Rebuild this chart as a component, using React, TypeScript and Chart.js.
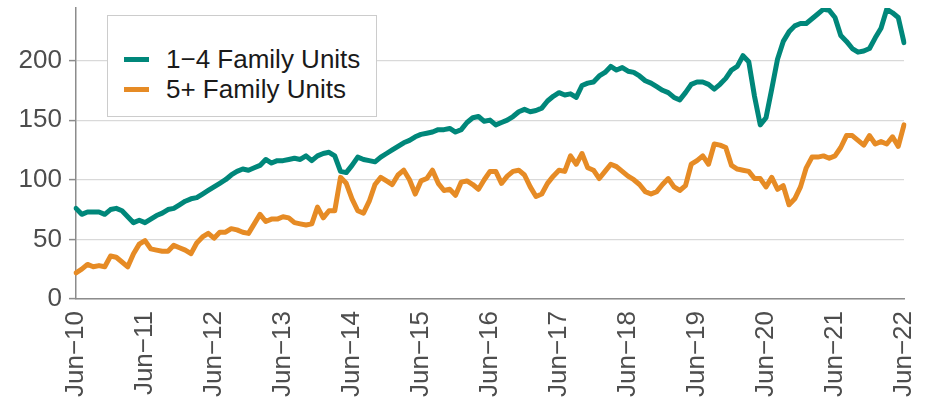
import React, { useEffect, useRef } from "react";
import { Chart, registerables } from "chart.js";

Chart.register(...registerables);

const MONTH_NAMES = ["Jan", "Feb", "Mar", "Apr", "May", "Jun", "Jul", "Aug", "Sep", "Oct", "Nov", "Dec"];
const START_YEAR = 2010;
const START_MONTH = 5; // June
const N_MONTHS = 145;

const categories: string[] = [];
for (let i = 0; i < N_MONTHS; i++) {
  const m = (START_MONTH + i) % 12;
  const y = START_YEAR + Math.floor((START_MONTH + i) / 12);
  categories.push(MONTH_NAMES[m] + "\u2212" + String(y % 100).padStart(2, "0"));
}

const seriesNames = ["1\u22124 Family Units", "5+ Family Units"];

const oneToFour = [
  76, 71, 73, 73, 73, 71, 75, 76, 74, 69, 64, 66,
  64, 67, 70, 72, 75, 76, 79, 82, 84, 85, 88, 91,
  94, 97, 100, 104, 107, 109, 108, 110, 112, 117, 114, 116,
  116, 117, 118, 117, 120, 116, 120, 122, 123, 120, 107, 106,
  112, 119, 117, 116, 115, 119, 122, 125, 128, 131, 133, 136,
  138, 139, 140, 142, 142, 143, 140, 142, 148, 152, 153, 149,
  150, 146, 148, 150, 153, 157, 159, 157, 158, 160, 166, 170,
  173, 171, 172, 169, 179, 181, 182, 187, 190, 195, 192, 194,
  191, 190, 187, 183, 181, 178, 175, 173, 169, 167, 173, 180,
  182, 182, 180, 176, 180, 185, 192, 195, 204, 199, 170, 146,
  152, 176, 201, 216, 224, 229, 231, 231, 235, 239, 243, 242,
  236, 221, 216, 210, 207, 208, 210, 219, 227, 243, 240, 236,
  215,
];

const fivePlus = [
  22, 25, 29, 27, 28, 27, 36, 35, 31, 27, 38, 46,
  49, 42, 41, 40, 40, 45, 43, 41, 38, 47, 52, 55,
  51, 56, 56, 59, 58, 56, 55, 63, 71, 65, 67, 67,
  69, 68, 64, 63, 62, 63, 77, 68, 74, 74, 102, 97,
  84, 74, 72, 82, 96, 102, 99, 96, 104, 108, 100, 88,
  99, 101, 108, 97, 91, 92, 87, 98, 99, 96, 92, 100,
  107, 107, 97, 103, 107, 108, 104, 94, 86, 88, 97, 103,
  108, 107, 120, 113, 122, 110, 108, 101, 107, 113, 111, 107,
  103, 100, 96, 90, 88, 90, 96, 101, 94, 91, 95, 113,
  116, 120, 113, 130, 129, 127, 112, 109, 108, 107, 101, 101,
  94, 102, 92, 95, 79, 84, 94, 110, 119, 119, 120, 118,
  120, 127, 137, 137, 133, 129, 137, 130, 132, 130, 136, 128,
  146,
];

const yTicks = [0, 50, 100, 150, 200];
const Y_MAX = 244;

const TEAL = "#00877a";
const ORANGE = "#e68b25";
const FONT = "'Liberation Sans', Arial, sans-serif";

export default function App() {
  const canvasRef = useRef<HTMLCanvasElement | null>(null);

  useEffect(() => {
    document.body.style.margin = "0";
    const canvas = canvasRef.current;
    if (!canvas) return;
    const chart = new Chart(canvas, {
      type: "line",
      data: {
        labels: categories,
        datasets: [
          {
            label: seriesNames[0],
            data: oneToFour,
            borderColor: TEAL,
            backgroundColor: TEAL,
            borderWidth: 5,
            pointRadius: 0,
            tension: 0,
            borderJoinStyle: "round",
            borderCapStyle: "round",
          },
          {
            label: seriesNames[1],
            data: fivePlus,
            borderColor: ORANGE,
            backgroundColor: ORANGE,
            borderWidth: 5,
            pointRadius: 0,
            tension: 0,
            borderJoinStyle: "round",
            borderCapStyle: "round",
          },
        ],
      },
      options: {
        animation: false,
        responsive: false,
        maintainAspectRatio: false,
        layout: { padding: { top: 8, right: 26, left: 0, bottom: 0 } },
        plugins: {
          legend: { display: false },
          tooltip: { enabled: false },
        },
        scales: {
          x: {
            type: "category",
            offset: false,
            grid: {
              display: false,
              drawOnChartArea: false,
              drawTicks: false,
            },
            border: { display: true, color: "#8c8c8c", width: 1.5 },
            ticks: {
              autoSkip: false,
              maxRotation: 90,
              minRotation: 90,
              padding: 12,
              color: "#4d4d4d",
              font: { family: FONT, size: 26 },
              callback: (_v: any, idx: number) =>
                categories[idx].startsWith("Jun") ? categories[idx] : null,
            },
            afterFit: (scale: any) => {
              scale.height = 102;
              scale.paddingLeft = 0;
              scale.paddingRight = 0;
            },
          },
          y: {
            min: 0,
            max: Y_MAX,
            afterBuildTicks: (scale: any) => {
              scale.ticks = yTicks.map((v) => ({ value: v }));
            },
            grid: {
              color: "#d9d9d9",
              lineWidth: 1.2,
              tickColor: "#8c8c8c",
              tickLength: 7,
              tickWidth: 1.5,
            },
            border: { display: true, color: "#8c8c8c", width: 1.5 },
            ticks: {
              padding: 7,
              color: "#4d4d4d",
              font: { family: FONT, size: 26 },
            },
            afterFit: (scale: any) => {
              scale.width = 76;
              scale.paddingTop = 0;
              scale.paddingBottom = 0;
            },
          },
        },
      },
    });
    return () => chart.destroy();
  }, []);

  return (
    <div style={{ position: "fixed", left: 0, top: 0, width: 930, height: 401, background: "#fff" }}>
      <canvas ref={canvasRef} width={930} height={401} style={{ display: "block" }} />
      <div
        style={{
          position: "absolute",
          left: 107,
          top: 15,
          width: 270,
          height: 102,
          boxSizing: "border-box",
          border: "1.5px solid #cccccc",
          background: "#ffffff",
          fontFamily: FONT,
          fontSize: 26,
          color: "#1a1a1a",
        }}
      >
        {seriesNames.map((name, k) => (
          <div
            key={name}
            style={{
              position: "absolute",
              left: 0,
              top: k === 0 ? 28 : 58,
              height: 30,
              display: "flex",
              alignItems: "center",
              whiteSpace: "nowrap",
            }}
          >
            <span
              style={{
                display: "inline-block",
                width: 25,
                height: 5,
                marginLeft: 16,
                marginRight: 17,
                background: k === 0 ? TEAL : ORANGE,
              }}
            />
            <span>{name}</span>
          </div>
        ))}
      </div>
    </div>
  );
}
